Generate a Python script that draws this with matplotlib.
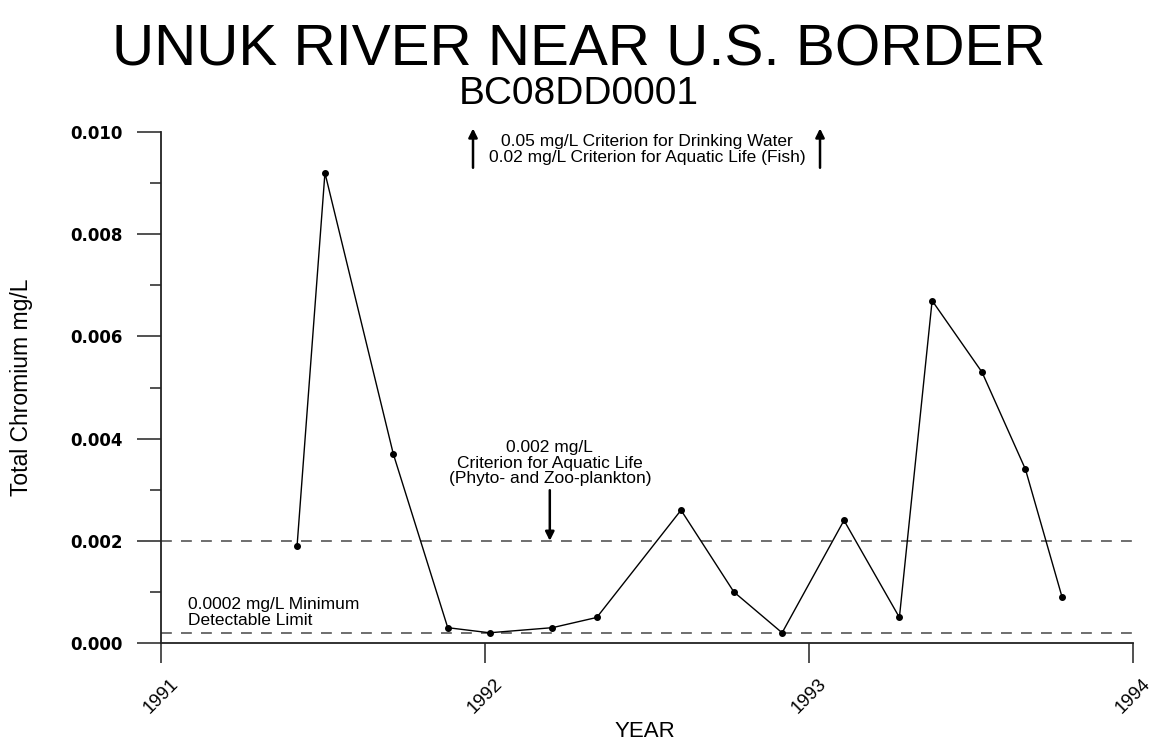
import matplotlib
matplotlib.use("Agg")
import matplotlib.pyplot as plt

# Sampling dates (decimal year) and total chromium concentrations (mg/L)
years = [1991.420, 1991.506, 1991.717, 1991.885, 1992.014, 1992.208, 1992.345,
         1992.605, 1992.768, 1992.917, 1993.108, 1993.279, 1993.380, 1993.534,
         1993.668, 1993.781]
chromium = [0.0019, 0.0092, 0.0037, 0.0003, 0.0002, 0.0003, 0.0005,
            0.0026, 0.0010, 0.0002, 0.0024, 0.0005, 0.0067, 0.0053,
            0.0034, 0.0009]

x_ticks = [1991, 1992, 1993, 1994]
x_tick_labels = ["1991", "1992", "1993", "1994"]
y_major = [0.000, 0.002, 0.004, 0.006, 0.008, 0.010]
y_minor = [0.001, 0.003, 0.005, 0.007, 0.009]

aquatic_plankton = 0.002
detection_limit = 0.0002

plt.rcParams["font.family"] = ["Liberation Sans", "DejaVu Sans"]

fig = plt.figure(figsize=(11.57, 7.42), dpi=100)
ax = fig.add_axes([0.13915, 0.13342, 0.84011, 0.68868])

ax.set_xlim(1991, 1994)
ax.set_ylim(0, 0.010)

# Guideline levels
dash_kw = dict(color="#555555", lw=1.2, dashes=(6.5, 5.5), zorder=1)
ax.axhline(aquatic_plankton, **dash_kw)
ax.axhline(detection_limit, **dash_kw)

# Measured series
ax.plot(years, chromium, color="black", lw=1.0, marker="o", markersize=4.0,
        markerfacecolor="black", markeredgecolor="black", zorder=3)

# Axes styling
for side in ("top", "right"):
    ax.spines[side].set_visible(False)
for side in ("left", "bottom"):
    ax.spines[side].set_linewidth(1.3)
    ax.spines[side].set_color("#222222")

ax.set_xticks(x_ticks)
ax.set_xticklabels(x_tick_labels, rotation=45, fontsize=13.5)
ax.tick_params(axis="x", direction="out", length=14.5, width=1.1, pad=9,
               color="#222222")

ax.set_yticks(y_major)
ax.set_yticklabels([f"{v:.3f}" for v in y_major],
                   fontfamily="DejaVu Sans", fontweight="bold", fontsize=12)
ax.set_yticks(y_minor, minor=True)
ax.tick_params(axis="y", which="major", direction="out", length=17.5,
               width=1.1, pad=10, color="#222222")
ax.tick_params(axis="y", which="minor", direction="out", length=8,
               width=1.1, color="#222222")

# Headings and axis titles
fig.text(0.5, 1 - 65 / 742, "UNUK RIVER NEAR U.S. BORDER", fontsize=42,
         ha="center", va="baseline")
fig.text(0.5, 1 - 104 / 742, "BC08DD0001", fontsize=28,
         ha="center", va="baseline")
fig.text(645 / 1157, 1 - 737 / 742, "YEAR", fontsize=16,
         ha="center", va="baseline")
fig.text(22 / 1157, 1 - 387 / 742, "Total Chromium mg/L", fontsize=16.5,
         rotation=90, ha="center", va="center")

# Annotations for criteria above the plotted range
ax.text(1992.50, 0.00966, "0.05 mg/L Criterion for Drinking Water\n"
        "0.02 mg/L Criterion for Aquatic Life (Fish)",
        fontsize=12.5, ha="center", va="center", linespacing=1.05)
arrow_kw = dict(arrowstyle="-|>", color="black", lw=1.8, mutation_scale=13,
                shrinkA=0, shrinkB=0)
for xa in (1991.963, 1993.034):
    ax.annotate("", xy=(xa, 0.01007), xytext=(xa, 0.00930),
                arrowprops=arrow_kw, annotation_clip=False)

# Plankton criterion
ax.text(1992.20, 0.00352, "0.002 mg/L\nCriterion for Aquatic Life\n"
        "(Phyto- and Zoo-plankton)",
        fontsize=12.5, ha="center", va="center", linespacing=1.05)
ax.annotate("", xy=(1992.20, aquatic_plankton), xytext=(1992.20, 0.00299),
            arrowprops=arrow_kw)

# Detection limit note
ax.text(1991.083, 0.0006, "0.0002 mg/L Minimum\nDetectable Limit",
        fontsize=12.5, ha="left", va="center", linespacing=1.05)

fig.savefig("out.png", dpi=100)
